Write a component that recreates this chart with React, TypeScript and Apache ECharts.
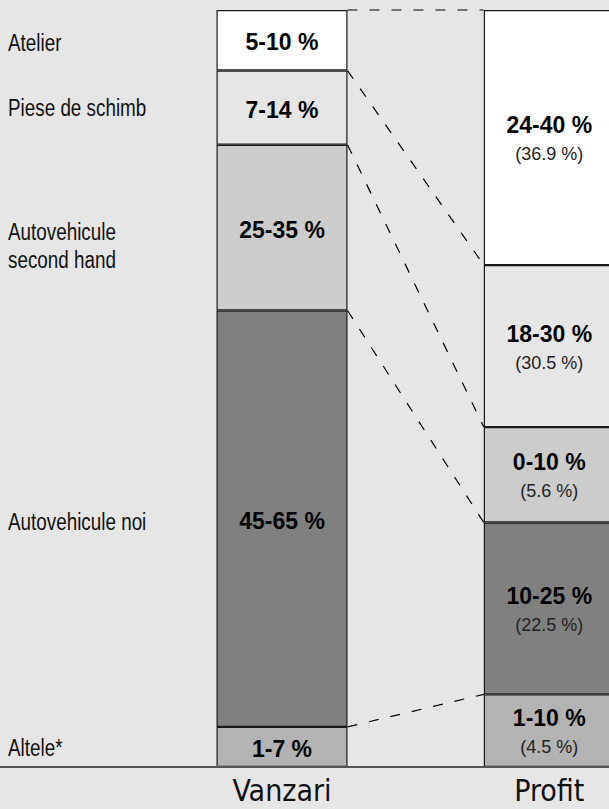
import React, { useEffect, useRef } from 'react';
import * as echarts from 'echarts';

// ---- data ----
const categories = ['Vanzari', 'Profit'];
// segments listed bottom -> top
const segmentNames = ['Altele*', 'Autovehicule noi', 'Autovehicule\nsecond hand', 'Piese de schimb', 'Atelier'];
const vanzariShare = [5.3, 55.0, 21.9, 9.8, 8.0];
const profitShare = [9.6, 22.7, 12.6, 21.4, 33.7];
const vanzariRange = ['1-7 %', '45-65 %', '25-35 %', '7-14 %', '5-10 %'];
const profitRange = ['1-10 %', '10-25 %', '0-10 %', '18-30 %', '24-40 %'];
const profitActual = ['4.5 %', '22.5 %', '5.6 %', '30.5 %', '36.9 %'];

// ---- styles ----
const segmentColors = ['#b3b3b3', '#808080', '#cccccc', '#e6e6e6', '#ffffff'];
const nameDy = [1, 3, 18, 0, 3];
const BAR_W = 131;
const CONDENSED = '"DejaVu Sans Condensed", "Liberation Sans Narrow", sans-serif';
const SANS = '"Liberation Sans", Arial, sans-serif';

function cumulative(arr: number[]) {
  const out: number[] = [];
  let s = 0;
  for (const v of arr) {
    s += v;
    out.push(s);
  }
  return out;
}

export default function App() {
  const ref = useRef<HTMLDivElement>(null);

  useEffect(() => {
    if (!ref.current) return;
    const chart = echarts.init(ref.current, undefined, { renderer: 'svg' });
    const vTop = cumulative(vanzariShare);
    const pTop = cumulative(profitShare);

    const barSeries = segmentNames.map((name, i) => ({
      type: 'bar',
      name,
      stack: 'total',
      barWidth: BAR_W,
      clip: false,
      itemStyle: { color: segmentColors[i], borderColor: '#1a1a1a', borderWidth: 1.2 },
      data: [
        {
          value: vanzariShare[i],
          label: {
            show: true,
            position: 'inside',
            formatter: vanzariRange[i],
            fontFamily: SANS,
            fontWeight: 'bold',
            fontSize: 23,
            color: '#000',
            offset: [0, 2],
          },
        },
        {
          value: profitShare[i],
          label: {
            show: true,
            position: 'inside',
            formatter: '{b|' + profitRange[i] + '}\n{p|(' + profitActual[i] + ')}',
            rich: {
              b: { fontFamily: SANS, fontWeight: 'bold', fontSize: 23, color: '#000', lineHeight: 29 },
              p: { fontFamily: SANS, fontSize: 18, color: '#222', lineHeight: 29 },
            },
            offset: [0, 2],
          },
        },
      ],
    }));

    const connectorSeries = {
      type: 'custom',
      name: 'connectors',
      encode: { x: 0, y: 1 },
      data: vTop.map((v, i) => [0, v, pTop[i]]),
      z: 5,
      renderItem: (params: any, api: any) => {
        const a = api.coord([0, api.value(1)]);
        const b = api.coord([1, api.value(2)]);
        const half = BAR_W / 2;
        return {
          type: 'line',
          shape: { x1: a[0] + half, y1: a[1], x2: b[0] - half, y2: b[1] },
          style: { stroke: '#000', lineWidth: 1.2, lineDash: [10, 12] },
        };
      },
    };

    const nameSeries = {
      type: 'custom',
      name: 'names',
      encode: { x: 0, y: 1 },
      data: vTop.map((v, i) => [0, v - vanzariShare[i] / 2, i]),
      renderItem: (params: any, api: any) => {
        const idx = api.value(2);
        const p = api.coord([0, api.value(1)]);
        return {
          type: 'text',
          x: 8,
          y: p[1] + nameDy[idx],
          scaleX: 0.82,
          style: {
            text: segmentNames[idx],
            font: '23px ' + SANS,
            fill: '#111',
            verticalAlign: 'middle',
            align: 'left',
            lineHeight: 28,
          },
        };
      },
    };

    chart.setOption({
      animation: false,
      backgroundColor: '#e6e6e6',
      grid: { left: 282, top: 10, bottom: 42, width: 267.3 },
      xAxis: {
        type: 'category',
        data: categories,
        boundaryGap: false,
        axisLine: { show: false },
        axisTick: { show: false },
        axisLabel: { fontFamily: CONDENSED, fontSize: 30, color: '#111', margin: 8 },
      },
      yAxis: {
        type: 'value',
        min: 0,
        max: 100,
        show: false,
        splitLine: { show: false },
      },
      series: [...barSeries, connectorSeries, nameSeries],
    });

    const y0 = chart.convertToPixel({ yAxisIndex: 0 }, 0) as number;
    chart.setOption({
      graphic: [
        {
          type: 'line',
          z: 10,
          shape: { x1: 0, y1: y0, x2: chart.getWidth(), y2: y0 },
          style: { stroke: '#555', lineWidth: 2 },
        },
      ],
    });

    return () => chart.dispose();
  }, []);

  return (
    <div
      ref={ref}
      style={{ position: 'fixed', left: 0, top: 0, width: 609, height: 809, background: '#e6e6e6' }}
    />
  );
}
